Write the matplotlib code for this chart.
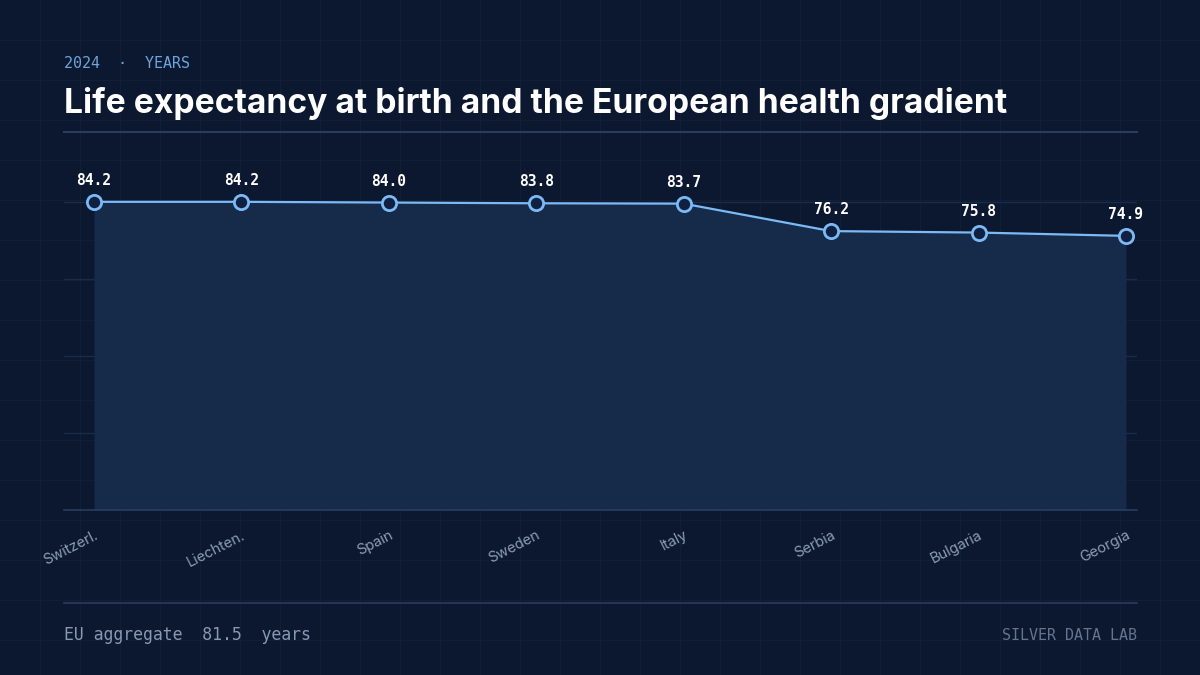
import matplotlib
matplotlib.use("Agg")
import matplotlib.pyplot as plt
import numpy as np

countries = ["Switzerl.", "Liechten.", "Spain", "Sweden", "Italy", "Serbia", "Bulgaria", "Georgia"]
life_exp = [84.2, 84.2, 84.0, 83.8, 83.7, 76.2, 75.8, 74.9]
eu_aggregate = 81.5

BG = "#0c1830"
GRIDBG = "#101e37"
FILL = "#162a4a"
LINE = "#7cbaf6"
RULE = "#2a3d5e"

W, H = 1200, 675
fig = plt.figure(figsize=(12, 6.75), dpi=100, facecolor=BG)

# background grid pattern
bg = fig.add_axes([0, 0, 1, 1], zorder=-10)
bg.set_xlim(0, W)
bg.set_ylim(H, 0)
bg.set_facecolor(BG)
bg.axis("off")
for x in range(40, W, 40):
    bg.axvline(x, color=GRIDBG, lw=0.8, zorder=0)
for y in range(40, H, 40):
    bg.axhline(y, color=GRIDBG, lw=0.8, zorder=0)

# rules
bg.plot([64, 1137], [132, 132], color=RULE, lw=1.5, zorder=1)
bg.plot([64, 1137], [603, 603], color=RULE, lw=1.2, zorder=1)

# header texts
fig.text(64 / W, 1 - 63 / H, "2024  ·  YEARS", color="#6ea4dc", fontsize=10.8,
         family="DejaVu Sans Mono", va="center", ha="left")
fig.text(64 / W, 1 - 103 / H, "Life expectancy at birth and the European health gradient",
         color="white", fontsize=24.2, fontweight="bold", family="Inter", va="center", ha="left")

# footer
fig.text(64 / W, 1 - 635 / H, "EU aggregate  %.1f  years" % eu_aggregate, color="#8798b3",
         fontsize=11.9, family="DejaVu Sans Mono", va="center", ha="left")
fig.text(1137 / W, 1 - 635 / H, "SILVER DATA LAB", color="#65758f",
         fontsize=10.8, family="DejaVu Sans Mono", va="center", ha="right")

# main axes
ax = fig.add_axes([64 / W, 1 - 510 / H, (1137 - 64) / W, (510 - 171) / H])
ax.set_facecolor("none")
x = np.arange(len(countries))
ymax = max(life_exp) * 1.1
ax.set_ylim(0, ymax)
ax.set_xlim(-0.2035, len(countries) - 1 + 0.075)

yt = np.linspace(0, max(life_exp), 5)
for t in yt[1:]:
    ax.axhline(t, color="#1b2c4a", lw=1, zorder=0)

ax.fill_between(x, life_exp, 0, color=FILL, zorder=1, lw=0)
ax.plot(x, life_exp, color=LINE, lw=1.6, zorder=3, solid_joinstyle="round")
ax.scatter(x, life_exp, s=105, facecolor="#102040", edgecolor=LINE, linewidth=2, zorder=4)

for xi, v in zip(x, life_exp):
    ax.annotate(f"{v:.1f}", (xi, v), xytext=(0, 10), textcoords="offset points",
                ha="center", va="bottom", color="white", fontsize=10.5,
                family="DejaVu Sans Mono", fontweight="bold", zorder=5)

for s in ["top", "right", "left"]:
    ax.spines[s].set_visible(False)
ax.spines["bottom"].set_color(RULE)
ax.spines["bottom"].set_linewidth(1.2)
ax.set_yticks([])
ax.set_xticks(x)
ax.set_xticklabels(countries, rotation=27, ha="right", rotation_mode="anchor",
                   color="#8d9db6", fontsize=10.5, family="Inter")
ax.tick_params(axis="x", length=0, pad=13)

fig.savefig("out.png", dpi=100, facecolor=BG)
